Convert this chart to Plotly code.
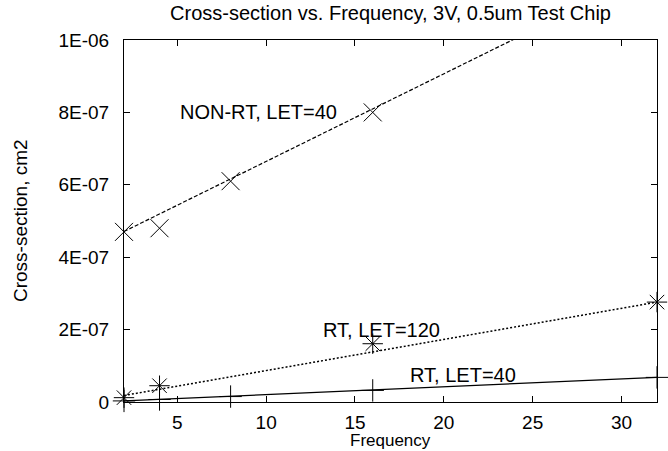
import plotly.graph_objects as go

# ---- data ----
nonrt_x = [2, 4, 8, 16]
nonrt_y = [4.70e-7, 4.80e-7, 6.10e-7, 8.00e-7]
nonrt_fit_x = [2, 32]
nonrt_fit_y = [4.71e-7, 1.197e-6]

rt120_x = [2, 4, 16, 32]
rt120_y = [1.2e-8, 4.5e-8, 1.61e-7, 2.76e-7]
rt120_fit_x = [2, 32]
rt120_fit_y = [1.8e-8, 2.76e-7]

rt40_x = [2, 4, 8, 16, 32]
rt40_y = [0.3e-8, 0.7e-8, 1.5e-8, 3.2e-8, 6.8e-8]
rt40_fit_x = [2, 32]
rt40_fit_y = [0.3e-8, 6.8e-8]

x_tickvals = [5, 10, 15, 20, 25, 30]
y_tickvals = [0, 2e-7, 4e-7, 6e-7, 8e-7, 1e-6]
y_ticktext = ["0", "2E-07", "4E-07", "6E-07", "8E-07", "1E-06"]

labels = ["NON-RT, LET=40", "RT, LET=120", "RT, LET=40"]
label_x = [9.55, 16.48, 21.1]
label_y = [8.01e-7, 2.0e-7, 7.4e-8]

FONT = "Liberation Sans, Arial, Helvetica, sans-serif"
FS = 19

fig = go.Figure()

fig.add_trace(go.Scatter(x=nonrt_fit_x, y=nonrt_fit_y, mode="lines",
                         line=dict(color="black", width=1.2, dash="4px,2px"),
                         showlegend=False, hoverinfo="skip"))
fig.add_trace(go.Scatter(x=nonrt_x, y=nonrt_y, mode="markers",
                         marker=dict(symbol="x-thin-open", size=18, color="black",
                                     line=dict(color="black", width=1)),
                         cliponaxis=False, showlegend=False))

fig.add_trace(go.Scatter(x=rt120_fit_x, y=rt120_fit_y, mode="lines",
                         line=dict(color="black", width=1.5, dash="2px,2px"),
                         showlegend=False, hoverinfo="skip"))
fig.add_trace(go.Scatter(x=rt120_x, y=rt120_y, mode="markers",
                         marker=dict(symbol="asterisk-open", size=17, color="black",
                                     line=dict(color="black", width=1)),
                         cliponaxis=False, showlegend=False))

fig.add_trace(go.Scatter(x=rt40_fit_x, y=rt40_fit_y, mode="lines",
                         line=dict(color="black", width=1.3),
                         showlegend=False, hoverinfo="skip"))
fig.add_trace(go.Scatter(x=rt40_x, y=rt40_y, mode="markers",
                         marker=dict(symbol="cross-thin-open", size=16, color="black",
                                     line=dict(color="black", width=1)),
                         cliponaxis=False, showlegend=False))

for t, lx, ly in zip(labels, label_x, label_y):
    fig.add_annotation(x=lx, y=ly, text=t, showarrow=False,
                       xanchor="center", yanchor="middle",
                       font=dict(family=FONT, size=20, color="black"))

# axis titles (placed as annotations in paper coordinates)
PLOT_H = 451 - 40 - 49
PLOT_W = 668 - 124 - 11
fig.add_annotation(text="Frequency", xref="paper", yref="paper",
                   x=0.5, y=-(451 - 402) / PLOT_H, xanchor="center",
                   yanchor="bottom", showarrow=False, borderpad=0,
                   font=dict(family=FONT, size=17, color="black"))
fig.add_annotation(text="Cross-section, cm2", xref="paper", yref="paper",
                   x=-(124 - 20) / PLOT_W, y=0.5, xanchor="center",
                   yanchor="middle", textangle=-90, showarrow=False,
                   font=dict(family=FONT, size=FS, color="black"))

fig.update_layout(
    width=668, height=451,
    margin=dict(l=124, r=11, t=40, b=49),
    paper_bgcolor="white", plot_bgcolor="white",
    font=dict(family=FONT, size=FS, color="black"),
    title=dict(text="Cross-section vs. Frequency, 3V, 0.5um Test Chip",
               x=0.5, xref="paper", xanchor="center", y=1 - 13 / 451,
               yanchor="middle", yref="container",
               font=dict(family=FONT, size=20, color="black")),
)

fig.update_xaxes(
    range=[2, 32], tickvals=x_tickvals, ticks="inside", ticklen=6,
    tickcolor="black", showline=True, linecolor="black", linewidth=1,
    mirror="ticks", showgrid=False, zeroline=False, ticklabelstandoff=3,
    automargin=False,
    tickfont=dict(family=FONT, size=FS, color="black"),
)
fig.update_yaxes(
    range=[0, 1e-6], tickvals=y_tickvals, ticktext=y_ticktext,
    ticks="inside", ticklen=6, tickcolor="black", showline=True,
    linecolor="black", linewidth=1, mirror="ticks", showgrid=False,
    zeroline=False, ticklabelstandoff=10, automargin=False,
    tickfont=dict(family=FONT, size=FS, color="black"),
)

fig.write_html("out.html")
